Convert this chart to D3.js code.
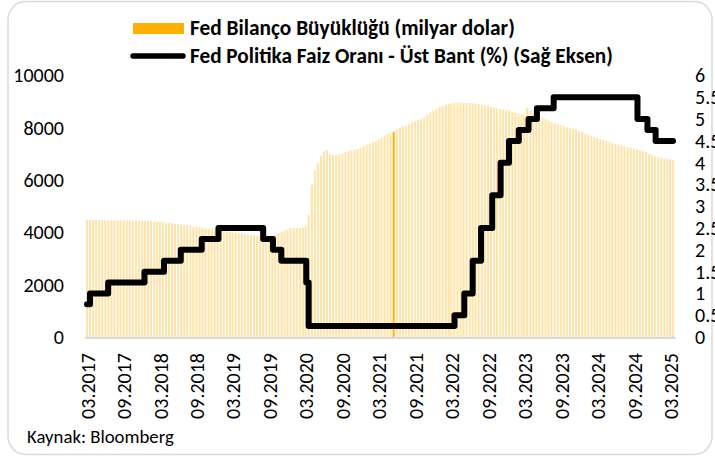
<!DOCTYPE html>
<html>
<head>
<meta charset="utf-8">
<script src="https://cdn.jsdelivr.net/npm/d3@7"></script>
<style>
  html, body { margin: 0; padding: 0; background: #fff; overflow: hidden; }
  svg { display: block; font-family: Carlito, "Open Sans", sans-serif; }
</style>
</head>
<body>
<div id="container"></div>
<script>
// Fed balance sheet (billion USD), two readings a month (1st and 16th)
const bal2017 = [4470, 4470, 4475, 4475, 4470, 4470, 4465, 4460, 4460, 4465, 4460, 4460, 4460, 4460, 4460, 4455, 4460, 4450, 4450, 4450]; // from March
const bal2018 = [4445, 4440, 4420, 4410, 4400, 4390, 4380, 4360, 4340, 4330, 4320, 4300, 4280, 4270, 4250, 4230, 4220, 4200, 4170, 4150, 4140, 4120, 4100, 4080];
const bal2019 = [4060, 4050, 4030, 4010, 4000, 3990, 3970, 3950, 3930, 3920, 3900, 3880, 3860, 3850, 3820, 3780, 3770, 3850, 3900, 3970, 4030, 4060, 4100, 4170];
const bal2020 = [4170, 4150, 4170, 4180, 4240, 4670, 5820, 6370, 6650, 6930, 7100, 7150, 7000, 6960, 6960, 6990, 7000, 7060, 7100, 7140, 7160, 7190, 7230, 7300];
const bal2021 = [7350, 7400, 7450, 7500, 7550, 7600, 7700, 7780, 7820, 7850, 7920, 8000, 8050, 8100, 8150, 8200, 8250, 8300, 8350, 8400, 8500, 8580, 8650, 8720];
const bal2022 = [8780, 8830, 8880, 8910, 8940, 8950, 8960, 8965, 8960, 8950, 8945, 8940, 8920, 8900, 8880, 8860, 8830, 8800, 8770, 8740, 8720, 8700, 8680, 8660];
const bal2023 = [8620, 8580, 8550, 8520, 8480, 8760, 8650, 8580, 8480, 8420, 8380, 8330, 8280, 8230, 8180, 8130, 8100, 8060, 8020, 7990, 7960, 7930, 7880, 7840];
const bal2024 = [7790, 7740, 7690, 7650, 7610, 7570, 7530, 7490, 7450, 7410, 7380, 7350, 7320, 7290, 7260, 7230, 7200, 7170, 7140, 7110, 7060, 7000, 6960, 6920];
const bal2025 = [6880, 6850, 6820, 6800, 6780, 6760]; // to March
const highlightDate = "2021-05-16";

// Fed funds upper bound (%), value from each date on
const rateDates = ["2017-03-01", "2017-03-16", "2017-06-15", "2017-12-14", "2018-03-22", "2018-06-14", "2018-09-27", "2018-12-20",
  "2019-08-01", "2019-09-19", "2019-10-31", "2020-03-04", "2020-03-16", "2022-03-17", "2022-05-05", "2022-06-16", "2022-07-28",
  "2022-09-22", "2022-11-03", "2022-12-15", "2023-02-02", "2023-03-23", "2023-05-04", "2023-07-27", "2024-09-19", "2024-11-08",
  "2024-12-19", "2025-03-16"];
const rateValues = [0.75, 1, 1.25, 1.5, 1.75, 2, 2.25, 2.5, 2.25, 2, 1.75, 1.25, 0.25, 0.5, 1, 1.75, 2.5, 3.25, 4, 4.5, 4.75, 5,
  5.25, 5.5, 5, 4.75, 4.5, 4.5];

const xTickLabels = ["03.2017", "09.2017", "03.2018", "09.2018", "03.2019", "09.2019", "03.2020", "09.2020", "03.2021",
  "09.2021", "03.2022", "09.2022", "03.2023", "09.2023", "03.2024", "09.2024", "03.2025"];
const leftTicks = [0, 2000, 4000, 6000, 8000, 10000];
const rightTicks = [0, 0.5, 1, 1.5, 2, 2.5, 3, 3.5, 4, 4.5, 5, 5.5, 6];

const legend1 = "Fed Bilanço Büyüklüğü (milyar dolar)";
const legend2 = "Fed Politika Faiz Oranı - Üst Bant (%) (Sağ Eksen)";
const source = "Kaynak: Bloomberg";

// ---- build rows
const years = [[2017, 3, bal2017], [2018, 1, bal2018], [2019, 1, bal2019], [2020, 1, bal2020], [2021, 1, bal2021],
  [2022, 1, bal2022], [2023, 1, bal2023], [2024, 1, bal2024], [2025, 1, bal2025]];
const parseDay = d3.timeParse("%Y-%m-%d");
let balance = [];
years.forEach(([yr, m0, arr]) => {
  arr.forEach((v, i) => {
    balance.push({ date: new Date(yr, m0 - 1 + Math.floor(i / 2), i % 2 ? 16 : 1), value: v });
  });
});
const hl = parseDay(highlightDate).getTime();
const rate = rateDates.map((d, i) => ({ date: parseDay(d), value: rateValues[i] }));

const width = 715, height = 456;
const svg = d3.select("#container").append("svg").attr("width", width).attr("height", height);

// chart frame
svg.append("rect")
  .attr("x", 8).attr("y", 1.5).attr("width", 704).attr("height", 453)
  .attr("rx", 18).attr("fill", "#fff").attr("stroke", "#D9D9D9").attr("stroke-width", 1.5);

const x = d3.scaleTime().domain([new Date(2017, 2, 1), new Date(2025, 2, 1)]).range([87, 670]);
const yL = d3.scaleLinear().domain([0, 10000]).range([337, 75.5]);
const yR = d3.scaleLinear().domain([0, 6]).range([337, 75.5]);

const barW = 2;
svg.append("g")
  .selectAll("rect")
  .data(balance)
  .join("rect")
  .attr("x", d => x(d.date) - barW / 2)
  .attr("y", d => yL(d.value))
  .attr("width", barW)
  .attr("height", d => yL(0) - yL(d.value))
  .attr("fill", d => d.date.getTime() === hl ? "#FFB000" : "#FFE3A8");

// x axis line
svg.append("line")
  .attr("x1", 85).attr("x2", 676).attr("y1", 338).attr("y2", 338)
  .attr("stroke", "#D9D9D9").attr("stroke-width", 2);

// rate line
svg.append("path")
  .datum(rate)
  .attr("fill", "none")
  .attr("stroke", "#000")
  .attr("stroke-width", 6)
  .attr("stroke-linejoin", "round")
  .attr("stroke-linecap", "round")
  .attr("d", d3.line().curve(d3.curveStepAfter).x(d => x(d.date)).y(d => yR(d.value)));

// axes
const parseTick = d3.timeParse("%m.%Y");
const xAxis = svg.append("g")
  .attr("transform", "translate(0,338)")
  .call(d3.axisBottom(x).tickValues(xTickLabels.map(parseTick)).tickFormat(d3.timeFormat("%m.%Y")).tickSize(0));
xAxis.select(".domain").remove();
xAxis.selectAll("text")
  .attr("transform", "rotate(-90)")
  .attr("x", -15).attr("y", 0).attr("dy", "0.36em")
  .style("text-anchor", "end");

const leftAxis = svg.append("g")
  .attr("transform", "translate(66,0)")
  .call(d3.axisLeft(yL).tickValues(leftTicks).tickFormat(d => String(d)).tickSize(0).tickPadding(2));
leftAxis.select(".domain").remove();

const rightAxis = svg.append("g")
  .attr("transform", "translate(693,0)")
  .call(d3.axisRight(yR).tickValues(rightTicks).tickFormat(d => String(d)).tickSize(0).tickPadding(2));
rightAxis.select(".domain").remove();

svg.selectAll(".tick text")
  .attr("font-family", 'Carlito, "Open Sans", sans-serif')
  .attr("font-size", 20)
  .attr("fill", "#000");

// legend
function fitText(sel, w) {
  const cur = sel.node().getComputedTextLength();
  sel.attr("font-size", parseFloat(sel.attr("font-size")) * w / cur);
}
svg.append("rect").attr("x", 133).attr("y", 23).attr("width", 51).attr("height", 11).attr("fill", "#FFB000");
svg.append("line").attr("x1", 133).attr("x2", 183).attr("y1", 56).attr("y2", 56)
  .attr("stroke", "#000").attr("stroke-width", 5.5).attr("stroke-linecap", "round");
const t1 = svg.append("text").attr("x", 190).attr("y", 35).attr("font-size", 18).attr("font-weight", "bold").text(legend1);
fitText(t1, 325);
const t2 = svg.append("text").attr("x", 190).attr("y", 63).attr("font-size", 18).attr("font-weight", "bold").text(legend2);
fitText(t2, 423);

const src = svg.append("text").attr("x", 27).attr("y", 443).attr("font-size", 14).attr("fill", "#000").text(source);
fitText(src, 147);
</script>
</body>
</html>
